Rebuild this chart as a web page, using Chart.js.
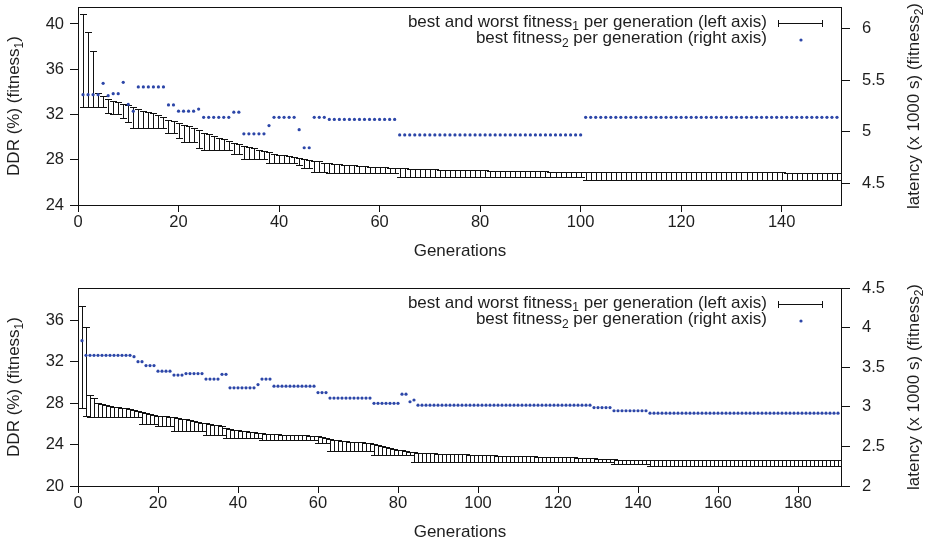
<!DOCTYPE html>
<html>
<head>
<meta charset="utf-8">
<script src="https://cdn.jsdelivr.net/npm/chart.js@4.4.1/dist/chart.umd.min.js"></script>
<style>
  html, body { margin: 0; padding: 0; background: #fff; }
  .panel { position: absolute; left: 0; width: 926px; }
  #top { top: 0; height: 270px; }
  #bottom { top: 270px; height: 273px; }
</style>
</head>
<body>
<div class="panel" id="top"><canvas id="chartTop" width="926" height="270"></canvas></div>
<div class="panel" id="bottom"><canvas id="chartBottom" width="926" height="273"></canvas></div>
<script>
// ---- top run: generations 1..151 ----
const topWorst = [
  40.9, 39.3, 37.6, 33.9, 33.65, 33.35, 33.2, 33.1, 32.95, 32.8,
  32.65, 32.5, 32.35, 32.2, 32.1, 31.95, 31.75, 31.55, 31.4, 31.25,
  31.1, 30.95, 30.8, 30.6, 30.4, 30.25, 30.1, 29.95, 29.8, 29.65,
  29.5, 29.4, 29.25, 29.1, 29.0, 28.9, 28.75, 28.65, 28.55, 28.45,
  28.4, 28.3, 28.25, 28.15, 28.1, 28.0, 27.9, 27.85, 27.75, 27.7,
  27.65, 27.6, 27.55, 27.5, 27.5, 27.45, 27.45, 27.4, 27.4, 27.35,
  27.35, 27.3, 27.3, 27.25, 27.25, 27.2, 27.2, 27.2, 27.15, 27.15,
  27.15, 27.1, 27.1, 27.1, 27.1, 27.05, 27.05, 27.05, 27.05, 27.05,
  27.05, 27.0, 27.0, 27.0, 27.0, 27.0, 27.0, 27.0, 27.0, 27.0,
  27.0, 27.0, 27.0, 26.95, 26.95, 26.95, 26.95, 26.95, 26.95, 26.95,
  26.9, 26.9, 26.9, 26.9, 26.9, 26.9, 26.9, 26.9, 26.9, 26.9,
  26.9, 26.9, 26.9, 26.9, 26.9, 26.9, 26.9, 26.9, 26.9, 26.9,
  26.9, 26.9, 26.9, 26.9, 26.9, 26.88, 26.88, 26.88, 26.88, 26.88,
  26.88, 26.88, 26.88, 26.88, 26.88, 26.88, 26.88, 26.88, 26.88, 26.88,
  26.86, 26.86, 26.86, 26.86, 26.86, 26.86, 26.86, 26.86, 26.86, 26.86,
  26.86
];
const topBest = [
  32.65, 32.65, 32.65, 32.65, 32.65, 32.15, 32.05, 32.05, 31.65, 31.3,
  30.8, 30.8, 30.8, 30.8, 30.8, 30.8, 30.8, 30.4, 30.4, 29.9,
  29.55, 29.55, 29.55, 29.05, 28.9, 28.9, 28.9, 28.9, 28.9, 28.9,
  28.5, 28.5, 28.1, 28.1, 28.1, 28.1, 28.1, 27.7, 27.7, 27.7,
  27.7, 27.7, 27.7, 27.5, 27.25, 27.25, 26.9, 26.9, 26.9, 26.8,
  26.8, 26.8, 26.8, 26.8, 26.8, 26.8, 26.8, 26.8, 26.8, 26.8,
  26.8, 26.8, 26.8, 26.5, 26.5, 26.5, 26.5, 26.5, 26.5, 26.5,
  26.5, 26.5, 26.5, 26.5, 26.5, 26.5, 26.5, 26.5, 26.5, 26.5,
  26.5, 26.5, 26.5, 26.5, 26.5, 26.5, 26.5, 26.5, 26.5, 26.5,
  26.5, 26.5, 26.5, 26.5, 26.5, 26.5, 26.5, 26.5, 26.5, 26.5,
  26.2, 26.2, 26.2, 26.2, 26.2, 26.2, 26.2, 26.2, 26.2, 26.2,
  26.2, 26.2, 26.2, 26.2, 26.2, 26.2, 26.2, 26.2, 26.2, 26.2,
  26.2, 26.2, 26.2, 26.2, 26.2, 26.2, 26.2, 26.2, 26.2, 26.2,
  26.2, 26.2, 26.2, 26.2, 26.2, 26.2, 26.2, 26.2, 26.2, 26.2,
  26.2, 26.2, 26.2, 26.2, 26.2, 26.2, 26.2, 26.2, 26.2, 26.2,
  26.2
];
const topF2 = [
  5.36, 5.36, 5.36, 5.36, 5.47, 5.35, 5.37, 5.37, 5.48, 5.265,
  5.2, 5.435, 5.435, 5.435, 5.435, 5.435, 5.435, 5.26, 5.26, 5.2,
  5.2, 5.2, 5.2, 5.22, 5.14, 5.14, 5.14, 5.14, 5.14, 5.14,
  5.19, 5.19, 4.98, 4.98, 4.98, 4.98, 4.98, 5.06, 5.14, 5.14,
  5.14, 5.14, 5.14, 5.02, 4.845, 4.845, 5.14, 5.14, 5.14, 5.12,
  5.12, 5.12, 5.12, 5.12, 5.12, 5.12, 5.12, 5.12, 5.12, 5.12,
  5.12, 5.12, 5.12, 4.97, 4.97, 4.97, 4.97, 4.97, 4.97, 4.97,
  4.97, 4.97, 4.97, 4.97, 4.97, 4.97, 4.97, 4.97, 4.97, 4.97,
  4.97, 4.97, 4.97, 4.97, 4.97, 4.97, 4.97, 4.97, 4.97, 4.97,
  4.97, 4.97, 4.97, 4.97, 4.97, 4.97, 4.97, 4.97, 4.97, 4.97,
  5.14, 5.14, 5.14, 5.14, 5.14, 5.14, 5.14, 5.14, 5.14, 5.14,
  5.14, 5.14, 5.14, 5.14, 5.14, 5.14, 5.14, 5.14, 5.14, 5.14,
  5.14, 5.14, 5.14, 5.14, 5.14, 5.14, 5.14, 5.14, 5.14, 5.14,
  5.14, 5.14, 5.14, 5.14, 5.14, 5.14, 5.14, 5.14, 5.14, 5.14,
  5.14, 5.14, 5.14, 5.14, 5.14, 5.14, 5.14, 5.14, 5.14, 5.14,
  5.14
];

// ---- bottom run: generations 1..190 ----
const botWorst = [
  37.4, 35.3, 28.8, 28.45, 28.05, 27.9, 27.8, 27.72, 27.66, 27.6,
  27.55, 27.5, 27.42, 27.32, 27.22, 27.12, 27.02, 26.94, 26.86, 26.8,
  26.76, 26.72, 26.68, 26.62, 26.56, 26.5, 26.44, 26.36, 26.28, 26.2,
  26.12, 26.04, 25.98, 25.92, 25.86, 25.76, 25.64, 25.52, 25.42, 25.36,
  25.3, 25.26, 25.22, 25.18, 25.12, 25.08, 25.05, 25.02, 25.0, 24.98,
  24.96, 24.94, 24.92, 24.9, 24.9, 24.88, 24.88, 24.86, 24.85, 24.8,
  24.72, 24.62, 24.52, 24.46, 24.4, 24.36, 24.32, 24.28, 24.25, 24.22,
  24.2, 24.18, 24.16, 24.02, 23.92, 23.84, 23.76, 23.68, 23.6, 23.52,
  23.45, 23.38, 23.32, 23.26, 23.22, 23.2, 23.18, 23.16, 23.14, 23.12,
  23.1, 23.09, 23.08, 23.07, 23.06, 23.05, 23.04, 23.03, 23.02, 23.0,
  22.98, 22.97, 22.96, 22.95, 22.94, 22.93, 22.92, 22.91, 22.9, 22.89,
  22.88, 22.87, 22.86, 22.85, 22.84, 22.83, 22.82, 22.81, 22.8, 22.79,
  22.78, 22.77, 22.76, 22.75, 22.74, 22.72, 22.7, 22.68, 22.66, 22.64,
  22.62, 22.6, 22.58, 22.56, 22.55, 22.54, 22.53, 22.52, 22.51, 22.5,
  22.5, 22.5, 22.5, 22.5, 22.5, 22.5, 22.5, 22.5, 22.5, 22.5,
  22.49, 22.49, 22.49, 22.49, 22.49, 22.49, 22.49, 22.49, 22.49, 22.49,
  22.48, 22.48, 22.48, 22.48, 22.48, 22.48, 22.48, 22.48, 22.48, 22.48,
  22.47, 22.47, 22.47, 22.47, 22.47, 22.47, 22.47, 22.47, 22.47, 22.47,
  22.46, 22.46, 22.46, 22.46, 22.46, 22.46, 22.46, 22.46, 22.46, 22.46
];
const botBest = [
  27.5, 26.8, 26.7, 26.7, 26.7, 26.7, 26.7, 26.7, 26.7, 26.7,
  26.7, 26.7, 26.7, 26.7, 26.7, 26.0, 26.0, 26.0, 26.0, 25.75,
  25.75, 25.75, 25.75, 25.3, 25.3, 25.3, 25.3, 25.3, 25.3, 25.3,
  25.3, 24.92, 24.92, 24.92, 24.92, 24.92, 24.66, 24.66, 24.66, 24.66,
  24.66, 24.66, 24.66, 24.66, 24.66, 24.45, 24.45, 24.45, 24.45, 24.45,
  24.45, 24.45, 24.45, 24.45, 24.45, 24.45, 24.45, 24.45, 24.45, 24.1,
  24.1, 24.1, 23.37, 23.37, 23.37, 23.37, 23.37, 23.37, 23.37, 23.37,
  23.37, 23.37, 23.37, 23.0, 23.0, 23.0, 23.0, 23.0, 23.0, 23.0,
  23.0, 23.0, 23.0, 22.28, 22.28, 22.28, 22.28, 22.28, 22.28, 22.28,
  22.28, 22.28, 22.28, 22.28, 22.28, 22.28, 22.28, 22.28, 22.28, 22.28,
  22.28, 22.28, 22.28, 22.28, 22.28, 22.28, 22.28, 22.28, 22.28, 22.28,
  22.28, 22.28, 22.28, 22.28, 22.28, 22.28, 22.28, 22.28, 22.28, 22.28,
  22.28, 22.28, 22.28, 22.28, 22.28, 22.28, 22.28, 22.28, 22.28, 22.28,
  22.28, 22.28, 22.28, 22.12, 22.12, 22.12, 22.12, 22.12, 22.12, 22.12,
  22.12, 22.12, 21.95, 21.95, 21.95, 21.95, 21.95, 21.95, 21.95, 21.95,
  21.95, 21.95, 21.95, 21.95, 21.95, 21.95, 21.95, 21.95, 21.95, 21.95,
  21.95, 21.95, 21.95, 21.95, 21.95, 21.95, 21.95, 21.95, 21.95, 21.95,
  21.95, 21.95, 21.95, 21.95, 21.95, 21.95, 21.95, 21.95, 21.95, 21.95,
  21.95, 21.95, 21.95, 21.95, 21.95, 21.95, 21.95, 21.95, 21.95, 21.95
];
const botF2 = [
  3.835, 3.65, 3.65, 3.65, 3.65, 3.65, 3.65, 3.65, 3.65, 3.65,
  3.65, 3.65, 3.65, 3.633, 3.57, 3.57, 3.52, 3.52, 3.52, 3.45,
  3.45, 3.45, 3.45, 3.40, 3.40, 3.40, 3.42, 3.42, 3.42, 3.42,
  3.42, 3.35, 3.35, 3.35, 3.35, 3.41, 3.41, 3.24, 3.24, 3.24,
  3.24, 3.24, 3.24, 3.24, 3.28, 3.35, 3.35, 3.35, 3.26, 3.26,
  3.26, 3.26, 3.26, 3.26, 3.26, 3.26, 3.26, 3.26, 3.26, 3.18,
  3.18, 3.18, 3.11, 3.11, 3.11, 3.11, 3.11, 3.11, 3.11, 3.11,
  3.11, 3.11, 3.11, 3.044, 3.044, 3.044, 3.044, 3.044, 3.044, 3.044,
  3.16, 3.16, 3.064, 3.086, 3.02, 3.02, 3.02, 3.02, 3.02, 3.02,
  3.02, 3.02, 3.02, 3.02, 3.02, 3.02, 3.02, 3.02, 3.02, 3.02,
  3.02, 3.02, 3.02, 3.02, 3.02, 3.02, 3.02, 3.02, 3.02, 3.02,
  3.02, 3.02, 3.02, 3.02, 3.02, 3.02, 3.02, 3.02, 3.02, 3.02,
  3.02, 3.02, 3.02, 3.02, 3.02, 3.02, 3.02, 3.02, 2.99, 2.99,
  2.99, 2.99, 2.99, 2.95, 2.95, 2.95, 2.95, 2.95, 2.95, 2.95,
  2.95, 2.95, 2.92, 2.92, 2.92, 2.92, 2.92, 2.92, 2.92, 2.92,
  2.92, 2.92, 2.92, 2.92, 2.92, 2.92, 2.92, 2.92, 2.92, 2.92,
  2.92, 2.92, 2.92, 2.92, 2.92, 2.92, 2.92, 2.92, 2.92, 2.92,
  2.92, 2.92, 2.92, 2.92, 2.92, 2.92, 2.92, 2.92, 2.92, 2.92,
  2.92, 2.92, 2.92, 2.92, 2.92, 2.92, 2.92, 2.92, 2.92, 2.92
];

// tick labels
const topXTicks = [0, 20, 40, 60, 80, 100, 120, 140];
const topYTicks = [24, 28, 32, 36, 40];
const topY2Ticks = [4.5, 5, 5.5, 6];
const botXTicks = [0, 20, 40, 60, 80, 100, 120, 140, 160, 180];
const botYTicks = [20, 24, 28, 32, 36];
const botY2Ticks = [2, 2.5, 3, 3.5, 4, 4.5];

const BLUE = '#2c46a8';
const INK = '#1e1e1e';
const FAMILY = '"Liberation Sans", Arial, sans-serif';

// text with subscript pieces
function drawRich(ctx, parts, x, y, align, size) {
  const subSize = Math.round(size * 0.72);
  const fontOf = p => `${p.sub ? subSize : size}px ${FAMILY}`;
  let total = 0;
  parts.forEach(p => { ctx.font = fontOf(p); total += ctx.measureText(p.t).width; });
  let cx = align === 'right' ? x - total : align === 'center' ? x - total / 2 : x;
  ctx.textAlign = 'left';
  ctx.textBaseline = 'alphabetic';
  parts.forEach(p => {
    ctx.font = fontOf(p);
    ctx.fillText(p.t, cx, y + (p.sub ? size * 0.22 : 0));
    cx += ctx.measureText(p.t).width;
  });
}

function makeDecor(worst, best) {
  return {
    id: 'decor',
    beforeDatasetsDraw(chart) {
      const { ctx, scales } = chart;
      const xs = scales.x, ys = scales.y;
      ctx.save();
      ctx.strokeStyle = '#111';
      ctx.lineWidth = 1;
      ctx.beginPath();
      worst.forEach((w, i) => {
        const px = Math.round(xs.getPixelForValue(i + 1)) + 0.5;
        const top = Math.round(ys.getPixelForValue(w)) + 0.5;
        const bot = Math.round(ys.getPixelForValue(best[i])) + 0.5;
        ctx.moveTo(px, top); ctx.lineTo(px, bot);
        ctx.moveTo(px - 3.5, top); ctx.lineTo(px + 3.5, top);
        ctx.moveTo(px - 3.5, bot); ctx.lineTo(px + 3.5, bot);
      });
      ctx.stroke();
      ctx.restore();
    },
    afterDraw(chart) {
      const { ctx, chartArea: a } = chart;
      ctx.save();
      // frame
      ctx.strokeStyle = '#111';
      ctx.lineWidth = 1;
      ctx.strokeRect(a.left + 0.5, a.top + 0.5, a.right - a.left - 1, a.bottom - a.top);
      ctx.fillStyle = INK;
      // legend
      drawRich(ctx, [{ t: 'best and worst fitness' }, { t: '1', sub: true }, { t: ' per generation (left axis)' }],
        767, a.top + 19.7, 'right', 17);
      drawRich(ctx, [{ t: 'best fitness' }, { t: '2', sub: true }, { t: ' per generation (right axis)' }],
        767, a.top + 36.3, 'right', 17);
      const ly = Math.round(a.top + 16) + 0.5;
      ctx.beginPath();
      ctx.moveTo(778, ly); ctx.lineTo(823, ly);
      ctx.moveTo(778.5, ly - 3.5); ctx.lineTo(778.5, ly + 3.5);
      ctx.moveTo(822.5, ly - 3.5); ctx.lineTo(822.5, ly + 3.5);
      ctx.stroke();
      ctx.fillStyle = BLUE;
      ctx.beginPath();
      ctx.arc(801, a.top + 33, 1.6, 0, Math.PI * 2);
      ctx.fill();
      ctx.fillStyle = INK;
      // axis titles
      drawRich(ctx, [{ t: 'Generations' }], (a.left + a.right) / 2, a.bottom + 51, 'center', 17);
      const cy = (a.top + a.bottom) / 2;
      ctx.save();
      ctx.translate(13, cy);
      ctx.rotate(-Math.PI / 2);
      drawRich(ctx, [{ t: 'DDR (%) (fitness' }, { t: '1', sub: true }, { t: ')' }], 0, 6, 'center', 17);
      ctx.restore();
      ctx.save();
      ctx.translate(913, cy);
      ctx.rotate(-Math.PI / 2);
      drawRich(ctx, [{ t: 'latency (x 1000 s) (fitness' }, { t: '2', sub: true }, { t: ')' }], 0, 6, 'center', 17);
      ctx.restore();
      ctx.restore();
    }
  };
}

function tickAxis(extra, ticks, size, pad, tl) {
  return Object.assign({
    afterBuildTicks: s => { s.ticks = ticks.map(v => ({ value: v })); },
    afterFit: s => {
      // fixed box sizes, no extra label padding pushed into the layout
      if (s.isHorizontal()) s.height = size; else s.width = size;
      s.paddingTop = 0; s.paddingBottom = 0; s.paddingLeft = 0; s.paddingRight = 0;
    },
    ticks: { font: { family: FAMILY, size: 16.5 }, color: INK, autoSkip: false, maxRotation: 0,
      padding: pad, callback: v => String(v) },
    grid: { drawOnChartArea: false, tickLength: tl, color: '#111', lineWidth: 1 },
    border: { display: false }
  }, extra);
}

function makeChart(id, cfg) {
  return new Chart(document.getElementById(id), {
    type: 'scatter',
    data: {
      datasets: [{
        data: cfg.f2.map((v, i) => ({ x: i + 1, y: v })),
        yAxisID: 'y2',
        pointRadius: 1.6,
        pointBackgroundColor: BLUE,
        pointBorderWidth: 0
      }]
    },
    options: {
      responsive: false,
      animation: false,
      layout: { padding: { top: cfg.padTop, left: 0, right: 0, bottom: 0 } },
      plugins: { legend: { display: false }, tooltip: { enabled: false } },
      scales: {
        x: tickAxis({ type: 'linear', min: 0, max: cfg.xMax }, cfg.xTicks, cfg.xH, 1, 7),
        y: tickAxis({ position: 'left', min: cfg.yMin, max: cfg.yMax }, cfg.yTicks, 78, 6, 8),
        y2: tickAxis({ position: 'right', min: cfg.y2Min, max: cfg.y2Max }, cfg.y2Ticks, 84, 12, 8)
      }
    },
    plugins: [makeDecor(cfg.worst, cfg.best)]
  });
}

Chart.defaults.font.family = FAMILY;

const topChart = makeChart('chartTop', {
  f2: topF2, worst: topWorst, best: topBest,
  xMax: 152, xTicks: topXTicks, xH: 65, padTop: 7,
  yMin: 24, yMax: 41.5, yTicks: topYTicks,
  y2Min: 4.29, y2Max: 6.21, y2Ticks: topY2Ticks
});
const botChart = makeChart('chartBottom', {
  f2: botF2, worst: botWorst, best: botBest,
  xMax: 191, xTicks: botXTicks, xH: 57, padTop: 18,
  yMin: 20, yMax: 39.1, yTicks: botYTicks,
  y2Min: 2, y2Max: 4.5, y2Ticks: botY2Ticks
});
</script>
</body>
</html>
